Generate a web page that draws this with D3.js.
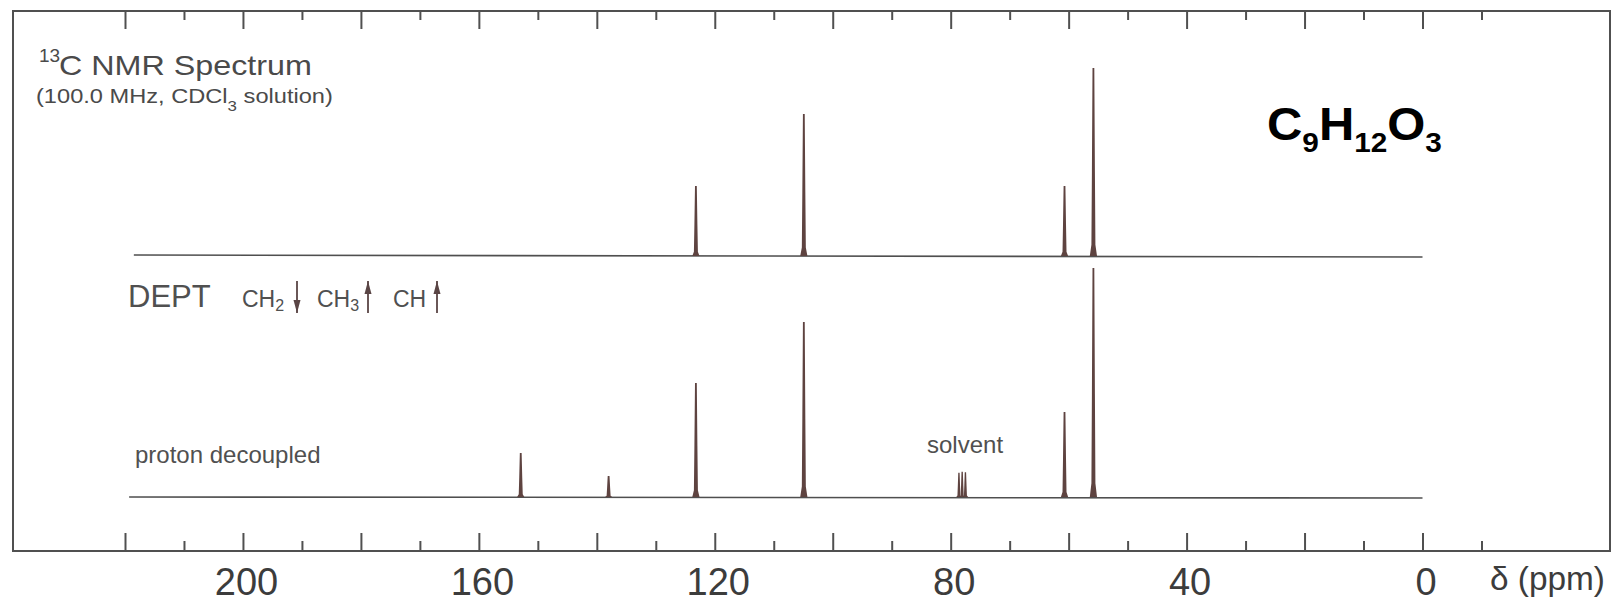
<!DOCTYPE html>
<html><head><meta charset="utf-8">
<script src="https://cdn.jsdelivr.net/npm/d3@7"></script>
<style>body{margin:0;background:#fff}svg{display:block}</style>
</head><body><svg id="c" width="1612" height="602"></svg>
<script>
// ---- data ----
const majorTicks = [220,200,180,160,140,120,100,80,60,40,20,0];
const minorTicks = [210,190,170,150,130,110,90,70,50,30,10,-10];
const tickLabels = [200,160,120,80,40,0];
const peakShifts = [152.9,138.0,123.2,104.9,60.7,55.8];      // ppm
const decoupledHeights = [19.2,9.2,49.8,76.4,37.1,100];       // relative intensity
const deptHeights = [0,0,30.6,62.0,30.6,82.1];                // relative intensity (CH, CH3 up)
const solventShifts = [78.6,78.05,77.5];
const solventHeights = [10.6,11.0,10.8];
const deptStart = 218.5;
const decoupledStart = 219.3;
const spectrumEnd = 0;

// ---- layout ----
const frame = {l:13, t:11, r:1610, b:551};
const deptBase = 256, decBase = 497;
const svg = d3.select("#c");
const FONT = "'Liberation Sans', Arial, Helvetica, sans-serif";
const x = d3.scaleLinear().domain([220,0]).range([125,1422.5]);
const hs = d3.scaleLinear().domain([0,100]).range([0,229]);

// frame
svg.append("rect").attr("x",frame.l).attr("y",frame.t)
  .attr("width",frame.r-frame.l).attr("height",frame.b-frame.t)
  .attr("fill","none").attr("stroke","#505050").attr("stroke-width",2);

function ticks(gen, y){
  const g = svg.append("g").attr("transform",`translate(0,${y})`).call(gen);
  g.select(".domain").remove();
  g.selectAll("line").attr("stroke","#505050").attr("stroke-width",2);
  return g;
}
ticks(d3.axisTop(x).tickValues(majorTicks).tickSize(18).tickFormat(""), frame.b);
ticks(d3.axisTop(x).tickValues(minorTicks).tickSize(10).tickFormat(""), frame.b);
ticks(d3.axisBottom(x).tickValues(majorTicks).tickSize(18).tickFormat(""), frame.t);
ticks(d3.axisBottom(x).tickValues(minorTicks).tickSize(9).tickFormat(""), frame.t);

// labels
const lab = svg.append("g").attr("transform",`translate(3,${frame.b})`)
  .call(d3.axisBottom(x).tickValues(tickLabels).tickSize(0).tickPadding(17).tickFormat(d3.format("d")));
lab.select(".domain").remove();
lab.selectAll("text").attr("font-family",FONT).attr("font-size",38).attr("fill","#3c3c3c");

svg.append("text").attr("x",1490).attr("y",590).attr("font-family",FONT)
  .attr("font-size",34).attr("fill","#3c3c3c").attr("textLength",115)
  .attr("lengthAdjust","spacingAndGlyphs").text("δ (ppm)");

function fit(sel, x0, w){
  const bw = sel.node().getBBox().width;
  const k = w / bw;
  sel.attr("transform",`translate(${x0},0) scale(${k},1) translate(${-x0},0)`);
}

// title texts
svg.append("text").attr("x",39).attr("y",62).attr("font-family",FONT)
  .attr("font-size",19).attr("fill","#4a4a4a").text("13");
const t1 = svg.append("text").attr("x",59).attr("y",75).attr("font-family",FONT)
  .attr("font-size",28).attr("fill","#4a4a4a").text("C NMR Spectrum");
fit(t1,59,253);
const t2 = svg.append("text").attr("x",36).attr("y",103).attr("font-family",FONT)
  .attr("font-size",21).attr("fill","#4a4a4a");
t2.append("tspan").text("(100.0 MHz, CDCl");
t2.append("tspan").attr("font-size",15).attr("dy",8).text("3");
t2.append("tspan").attr("dy",-8).text(" solution)");
fit(t2,36,297);

// formula
const f = svg.append("text").attr("x",1267).attr("y",140).attr("font-family",FONT)
  .attr("font-weight","bold").attr("font-size",46).attr("fill","#000");
[["C",0],["9",1],["H",0],["12",1],["O",0],["3",1]].forEach(([s,sub],i,arr)=>{
  const prev = i>0 ? arr[i-1][1] : 0;
  const dy = (sub?12:0) - (prev?12:0);
  f.append("tspan").attr("dy",dy).attr("font-size",sub?28:46).text(s);
});
fit(f,1267,175);

// DEPT legend
const lc = "#505050", ac = "#5a4545";
svg.append("text").attr("x",128).attr("y",307).attr("font-family",FONT)
  .attr("font-size",31).attr("fill",lc).text("DEPT");
function chLabel(x0, sub){
  const t = svg.append("text").attr("x",x0).attr("y",307).attr("font-family",FONT)
    .attr("font-size",23).attr("fill",lc);
  t.append("tspan").text("CH");
  if(sub) t.append("tspan").attr("font-size",16).attr("dy",4).text(sub);
}
function arrow(x0, up){
  const y1 = 281, y2 = 313;
  svg.append("line").attr("x1",x0).attr("x2",x0).attr("y1",y1).attr("y2",y2)
    .attr("stroke",ac).attr("stroke-width",1.8);
  const tip = up ? y1 : y2, base = up ? y1+13 : y2-13;
  svg.append("path").attr("d",`M${x0},${tip}L${x0-3.5},${base}L${x0+3.5},${base}Z`).attr("fill",ac);
}
chLabel(242,"2"); arrow(297,false);
chLabel(317,"3"); arrow(368,true);
chLabel(393,null); arrow(437,true);

svg.append("text").attr("x",135).attr("y",463).attr("font-family",FONT)
  .attr("font-size",24).attr("fill",lc).text("proton decoupled");
svg.append("text").attr("x",927).attr("y",453).attr("font-family",FONT)
  .attr("font-size",24).attr("fill",lc).text("solvent");

// spectra
const line = d3.line();
svg.append("path").attr("d",line([[x(deptStart),deptBase-1],[x(spectrumEnd),deptBase+1]]))
  .attr("stroke","#4f4f4f").attr("stroke-width",1.6).attr("fill","none");
svg.append("path").attr("d",line([[x(decoupledStart),decBase],[x(spectrumEnd),decBase+1]]))
  .attr("stroke","#4f4f4f").attr("stroke-width",1.6).attr("fill","none");

const shape = [[-3.6,0],[-2,0.06],[-1.5,0.45],[-0.9,1],[0.9,1],[1.5,0.45],[2,0.06],[3.6,0]];
function peak(ppm, height, base, wk){
  if(height<=0) return;
  const cx = x(ppm), hp = hs(height);
  svg.append("path").attr("d", line(shape.map(([dx,fr])=>[cx+dx*wk, base-fr*hp]))+"Z")
    .attr("fill","#5e4340");
}
peakShifts.forEach((p,i)=>peak(p,deptHeights[i],deptBase,1));
peakShifts.forEach((p,i)=>peak(p,decoupledHeights[i],decBase,1));
solventShifts.forEach((p,i)=>peak(p,solventHeights[i],decBase,0.75));
</script></body></html>
